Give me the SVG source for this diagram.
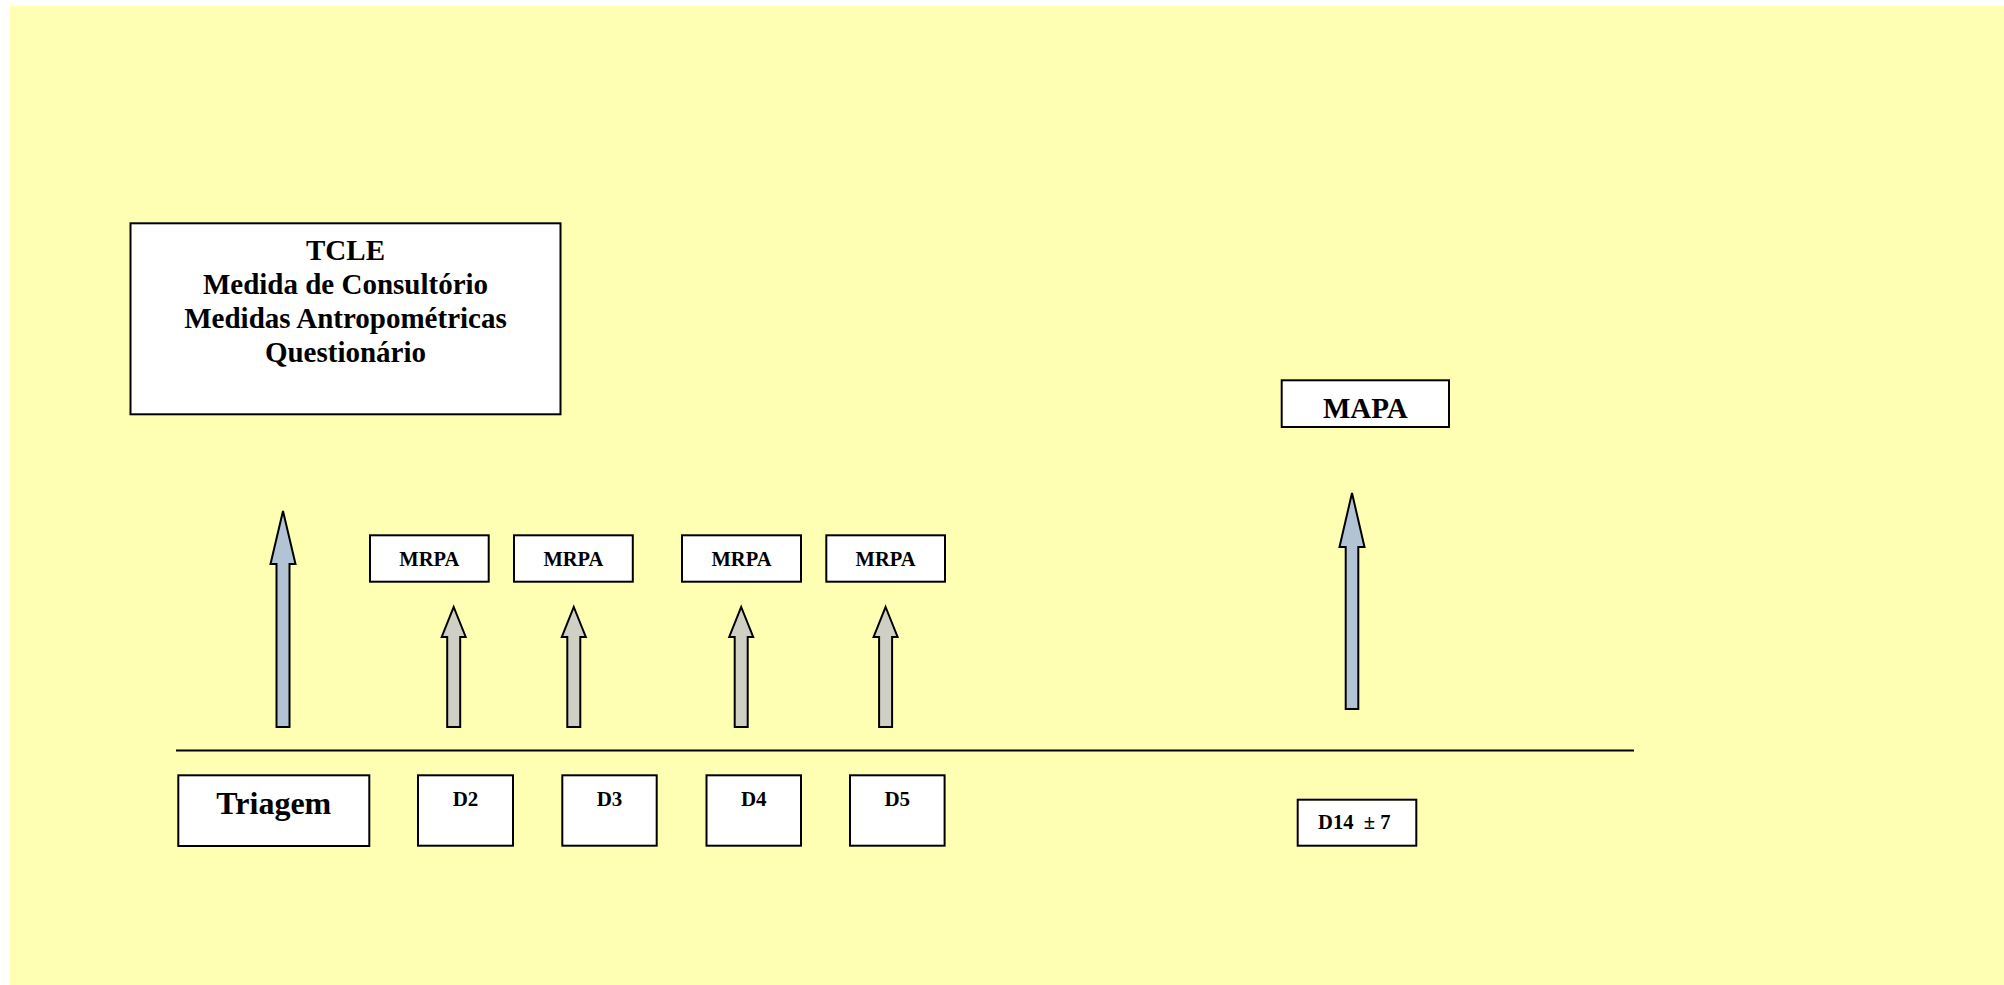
<svg xmlns="http://www.w3.org/2000/svg" xmlns:xlink="http://www.w3.org/1999/xlink" width="2004" height="985" viewBox="0 0 2004 985">
  <style>
    .box { fill: #FFFFFF; stroke: #000000; stroke-width: 2; }
    .lbl { font-family: "Liberation Serif", "Times New Roman", serif; font-weight: bold; fill: #000000; text-anchor: middle; }
    .arrow-main { fill: #B2C4D4; stroke: #000000; stroke-width: 2; stroke-linejoin: miter; }
    .arrow-day { fill: #CFCFC4; stroke: #000000; stroke-width: 2; stroke-linejoin: miter; }
    .timeline { stroke: #000000; stroke-width: 2.2; fill: none; }
  </style>
  <defs>
    <!-- short block arrow used for the daily home readings -->
    <path id="day-arrow" d="M0,0 L12,30 L6.5,30 L6.5,120 L-6.5,120 L-6.5,30 L-12,30 Z"/>
  </defs>

  <!-- page background -->
  <rect x="10" y="6" width="1994" height="979" fill="#FFFFB4"/>

  <!-- connectors: timeline and block arrows -->
  <g id="connectors">
    <line class="timeline" x1="176" y1="750.5" x2="1634" y2="750.5"/>
    <path class="arrow-main" d="M283,511 L295.5,564 L289.5,564 L289.5,727 L276.5,727 L276.5,564 L270.5,564 Z"/>
    <use xlink:href="#day-arrow" class="arrow-day" transform="translate(453.7,607)"/>
    <use xlink:href="#day-arrow" class="arrow-day" transform="translate(573.8,607)"/>
    <use xlink:href="#day-arrow" class="arrow-day" transform="translate(741.2,607)"/>
    <use xlink:href="#day-arrow" class="arrow-day" transform="translate(885.6,607)"/>
    <path class="arrow-main" d="M1352,493 L1364.5,547 L1358.3,547 L1358.3,709 L1345.7,709 L1345.7,547 L1339.5,547 Z"/>
  </g>

  <!-- screening visit tasks -->
  <g id="node-tcle">
    <rect class="box" x="130.5" y="223.3" width="430" height="191"/>
    <text class="lbl" font-size="29" x="345.5" y="260">TCLE</text>
    <text class="lbl" font-size="29" x="345.5" y="294">Medida de Consultório</text>
    <text class="lbl" font-size="29" x="345.5" y="328">Medidas Antropométricas</text>
    <text class="lbl" font-size="29" x="345.5" y="362">Questionário</text>
  </g>

  <!-- home readings -->
  <g id="node-mrpa-1">
    <rect class="box" x="370" y="535.3" width="118.7" height="46.4"/>
    <text class="lbl" font-size="20.5" x="429.3" y="566">MRPA</text>
  </g>
  <g id="node-mrpa-2">
    <rect class="box" x="514" y="535.3" width="118.8" height="46.4"/>
    <text class="lbl" font-size="20.5" x="573.4" y="566">MRPA</text>
  </g>
  <g id="node-mrpa-3">
    <rect class="box" x="682" y="535.3" width="119" height="46.4"/>
    <text class="lbl" font-size="20.5" x="741.5" y="566">MRPA</text>
  </g>
  <g id="node-mrpa-4">
    <rect class="box" x="826.3" y="535.3" width="118.7" height="46.4"/>
    <text class="lbl" font-size="20.5" x="885.6" y="566">MRPA</text>
  </g>

  <!-- ambulatory monitoring -->
  <g id="node-mapa">
    <rect class="box" x="1281.7" y="380.3" width="167.3" height="46.7"/>
    <text class="lbl" font-size="29" x="1365.3" y="418.3">MAPA</text>
  </g>

  <!-- timeline days -->
  <g id="node-triagem">
    <rect class="box" x="178.3" y="775.3" width="191" height="70.7"/>
    <text class="lbl" font-size="32" x="273.8" y="814.3">Triagem</text>
  </g>
  <g id="node-d2">
    <rect class="box" x="418" y="775.3" width="95" height="70.4"/>
    <text class="lbl" font-size="21" x="465.5" y="805.7">D2</text>
  </g>
  <g id="node-d3">
    <rect class="box" x="562.3" y="775.3" width="94.4" height="70.4"/>
    <text class="lbl" font-size="21" x="609.5" y="805.7">D3</text>
  </g>
  <g id="node-d4">
    <rect class="box" x="706.5" y="775.3" width="94.5" height="70.4"/>
    <text class="lbl" font-size="21" x="753.8" y="805.7">D4</text>
  </g>
  <g id="node-d5">
    <rect class="box" x="850" y="775.3" width="94.6" height="70.4"/>
    <text class="lbl" font-size="21" x="897.3" y="805.7">D5</text>
  </g>
  <g id="node-d14">
    <rect class="box" x="1297.7" y="799.7" width="118.6" height="46"/>
    <text class="lbl" font-size="20.6" x="1354.3" y="829.3" style="white-space:pre">D14  ± 7</text>
  </g>
</svg>
